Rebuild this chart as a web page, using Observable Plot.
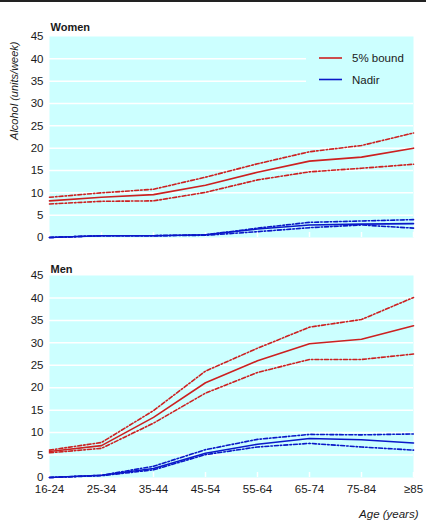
<!DOCTYPE html>
<html>
<head>
<meta charset="utf-8">
<script src="https://cdn.jsdelivr.net/npm/d3@7"></script>
<script src="https://cdn.jsdelivr.net/npm/@observablehq/plot@0.6"></script>
<style>
  html, body { margin: 0; padding: 0; background: #fff; }
  #chart { position: relative; width: 426px; height: 524px; overflow: hidden;
           font-family: "Liberation Sans", Arial, sans-serif; color: #1a1a1a; }
  #rule { position: absolute; left: 0; top: 0; width: 426px; height: 2px; background: #222; }
  .panel { position: absolute; left: 0; }
  #legend { position: absolute; left: 306px; top: 46px; width: 107px; height: 46px; background: #ccffff; }
</style>
</head>
<body>
<div id="chart">
  <div id="rule"></div>
  <div id="women" class="panel" style="top:0px"></div>
  <div id="men" class="panel" style="top:250px"></div>
  <div id="legend"></div>
</div>
<script>
// ---- Data ----
const ages = ["16-24", "25-34", "35-44", "45-54", "55-64", "65-74", "75-84", "≥85"];
const yTicks = [0, 5, 10, 15, 20, 25, 30, 35, 40, 45];
const gridValues = [5, 10, 15, 20, 25, 30, 35, 40];

const womenBound      = [8.2, 9.0, 9.6, 11.7, 14.6, 17.1, 18.0, 20.0];
const womenBoundUpper = [9.0, 10.0, 10.8, 13.5, 16.5, 19.2, 20.6, 23.4];
const womenBoundLower = [7.5, 8.1, 8.2, 10.1, 12.9, 14.7, 15.5, 16.4];
const womenNadir      = [0, 0.4, 0.4, 0.6, 1.9, 2.8, 3.0, 3.1];
const womenNadirUpper = [0, 0.4, 0.4, 0.6, 2.1, 3.4, 3.7, 4.0];
const womenNadirLower = [0, 0.4, 0.4, 0.5, 1.3, 2.2, 2.8, 2.1];

const menBound        = [5.8, 7.1, 13.4, 21.1, 26.0, 29.8, 30.8, 33.8];
const menBoundUpper   = [6.1, 7.8, 14.9, 23.7, 28.8, 33.5, 35.2, 40.1];
const menBoundLower   = [5.5, 6.5, 12.1, 18.8, 23.4, 26.3, 26.3, 27.5];
const menNadir        = [0, 0.5, 2.0, 5.4, 7.4, 8.7, 8.4, 7.7];
const menNadirUpper   = [0, 0.5, 2.5, 6.2, 8.5, 9.6, 9.5, 9.7];
const menNadirLower   = [0, 0.4, 1.7, 5.1, 6.8, 7.6, 6.8, 6.1];

const legendLabels = ["5% bound", "Nadir"];

// ---- Styles ----
const RED = "#cc2020";
const BLUE = "#0a18c8";
const BG = "#ccffff";
const DASHDOT = "4,2,1.5,2";
const FONT = '"Liberation Sans", Arial, sans-serif';
const FS = 11.5;

function toRows(values) {
  return ages.map((age, i) => ({age, value: values[i]}));
}

function seriesMarks(main, upper, lower, color) {
  return [
    Plot.line(toRows(upper), {x: "age", y: "value", stroke: color, strokeWidth: 1.6, strokeDasharray: DASHDOT}),
    Plot.line(toRows(lower), {x: "age", y: "value", stroke: color, strokeWidth: 1.6, strokeDasharray: DASHDOT}),
    Plot.line(toRows(main), {x: "age", y: "value", stroke: color, strokeWidth: 1.6})
  ];
}

function panel({title, bound, boundU, boundL, nadir, nadirU, nadirL, height, marginTop, marginBottom, titleDy, showX, yLabel}) {
  const plotH = height - marginTop - marginBottom;
  const marks = [
    Plot.frame({fill: BG, stroke: "none"}),
    Plot.gridY(gridValues, {stroke: "white", strokeOpacity: 1, strokeWidth: 1.5}),
    Plot.tickX(ages, {x: d => d, stroke: "white", strokeWidth: 1.5, insetTop: plotH - 5}),
    Plot.axisY(yTicks, {tickSize: 0, tickPadding: 6, label: null, fontSize: FS}),
    ...seriesMarks(nadir, nadirU, nadirL, BLUE),
    ...seriesMarks(bound, boundU, boundL, RED),
    Plot.text([title], {frameAnchor: "top-left", textAnchor: "start", dx: 1, dy: titleDy, fontWeight: "bold", fontSize: 11})
  ];
  if (showX) {
    marks.push(Plot.axisX({tickSize: 0, tickPadding: 7, label: null, fontSize: FS}));
    marks.push(Plot.text(["Age (years)"], {frameAnchor: "bottom-right", textAnchor: "end", dx: 5, dy: 40, fontStyle: "italic", fontSize: 11.5}));
  } else {
    marks.push(Plot.axisX({ticks: [], label: null}));
  }
  if (yLabel) {
    marks.push(Plot.text([yLabel], {frameAnchor: "top-left", rotate: -90, textAnchor: "end", dx: -39, dy: 5, fontStyle: "italic", fontSize: 11}));
  }
  return Plot.plot({
    width: 426,
    height,
    marginLeft: 49,
    marginRight: 13,
    marginTop,
    marginBottom,
    style: {fontFamily: FONT, fontSize: FS + "px", background: "transparent", color: "#1a1a1a", overflow: "visible"},
    x: {type: "point", domain: ages, padding: 0, axis: null},
    y: {domain: [0, 45], axis: null},
    marks
  });
}

document.getElementById("women").appendChild(panel({
  title: "Women",
  bound: womenBound, boundU: womenBoundUpper, boundL: womenBoundLower,
  nadir: womenNadir, nadirU: womenNadirUpper, nadirL: womenNadirLower,
  height: 245, marginTop: 36, marginBottom: 8, titleDy: -13.5, showX: false,
  yLabel: "Alcohol (units/week)"
}));

document.getElementById("men").appendChild(panel({
  title: "Men",
  bound: menBound, boundU: menBoundUpper, boundL: menBoundLower,
  nadir: menNadir, nadirU: menNadirUpper, nadirL: menNadirLower,
  height: 274, marginTop: 25, marginBottom: 47, titleDy: -10.5, showX: true,
  yLabel: null
}));

// ---- Legend ----
const legendColors = [RED, BLUE];
const lg = d3.select("#legend").append("svg").attr("width", 107).attr("height", 46)
  .style("font-family", FONT).style("font-size", "11.5px");
legendLabels.forEach((lab, i) => {
  const g = lg.append("g").attr("transform", `translate(0, ${12 + i * 21.5})`);
  g.append("line").attr("x1", 13).attr("x2", 36).attr("y1", 0).attr("y2", 0)
    .attr("stroke", legendColors[i]).attr("stroke-width", 1.6);
  g.append("text").attr("x", 46).attr("y", 0).attr("dy", "0.35em").attr("fill", "#1a1a1a").text(lab);
});
</script>
</body>
</html>
